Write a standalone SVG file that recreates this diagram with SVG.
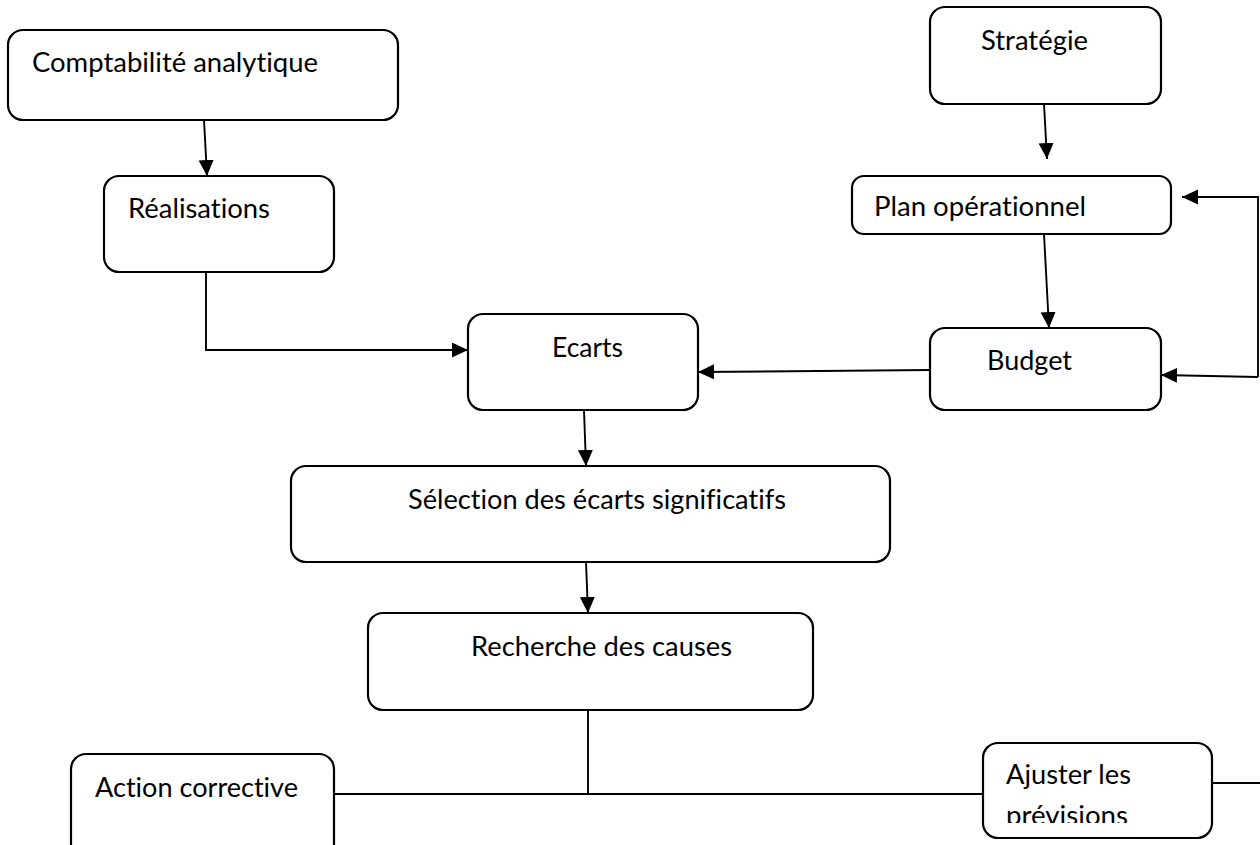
<svg xmlns="http://www.w3.org/2000/svg" width="1260" height="845" viewBox="0 0 1260 845">
  <style>
    .box { fill: #ffffff; stroke: #000000; stroke-width: 2.2; }
    .lbl { font-family: Lato, "Open Sans", "Liberation Sans", sans-serif; font-size: 26px; fill: #000000; font-variant-ligatures: none; font-feature-settings: "liga" 0, "clig" 0; }
    .wire { fill: none; stroke: #000000; stroke-width: 1.9; }
    .arrow { marker-end: url(#head); }
  </style>
  <defs>
    <marker id="head" markerUnits="userSpaceOnUse" markerWidth="17" markerHeight="16" refX="16" refY="7.5" orient="auto">
      <path d="M0,0 L16,7.5 L0,15 Z" fill="#000000"/>
    </marker>
    <clipPath id="clip-ajuster">
      <rect x="984" y="744" width="227" height="79"/>
    </clipPath>
  </defs>

  <rect x="0" y="0" width="1260" height="845" fill="#ffffff"/>

  <!-- connectors -->
  <g id="connectors">
    <line class="wire arrow" x1="204" y1="120" x2="207" y2="176"/>
    <polyline class="wire arrow" points="206,272 206,350 468,350"/>
    <line class="wire arrow" x1="1044" y1="104" x2="1047" y2="159"/>
    <line class="wire arrow" x1="1044" y1="234" x2="1049" y2="328"/>
    <line class="wire arrow" x1="930" y1="370" x2="698" y2="372"/>
    <polyline class="wire arrow" points="1258,377 1258,197 1182,197"/>
    <line class="wire arrow" x1="1258" y1="377" x2="1161" y2="375"/>
    <line class="wire arrow" x1="584" y1="410" x2="586" y2="466"/>
    <line class="wire arrow" x1="586" y1="562" x2="588" y2="613"/>
    <line class="wire" x1="588" y1="710" x2="588" y2="794"/>
    <line class="wire" x1="334" y1="794" x2="983" y2="794"/>
    <line class="wire" x1="1212" y1="783" x2="1260" y2="783"/>
  </g>

  <!-- nodes -->
  <g id="comptabilite">
    <rect class="box" x="8" y="30" width="390" height="90" rx="15"/>
    <text class="lbl" x="32" y="72" textLength="286" lengthAdjust="spacingAndGlyphs">Comptabilité analytique</text>
  </g>
  <g id="realisations">
    <rect class="box" x="104" y="176" width="230" height="96" rx="15"/>
    <text class="lbl" x="128" y="218" textLength="142" lengthAdjust="spacingAndGlyphs">Réalisations</text>
  </g>
  <g id="strategie">
    <rect class="box" x="930" y="7" width="231" height="97" rx="15"/>
    <text class="lbl" x="981" y="50" textLength="107" lengthAdjust="spacingAndGlyphs">Stratégie</text>
  </g>
  <g id="plan">
    <rect class="box" x="852" y="176" width="319" height="58" rx="12"/>
    <text class="lbl" x="874" y="216" textLength="212" lengthAdjust="spacingAndGlyphs">Plan opérationnel</text>
  </g>
  <g id="budget">
    <rect class="box" x="930" y="328" width="231" height="82" rx="15"/>
    <text class="lbl" x="987" y="370" textLength="85" lengthAdjust="spacingAndGlyphs">Budget</text>
  </g>
  <g id="ecarts">
    <rect class="box" x="468" y="314" width="230" height="96" rx="15"/>
    <text class="lbl" x="552" y="357" textLength="71" lengthAdjust="spacingAndGlyphs">Ecarts</text>
  </g>
  <g id="selection">
    <rect class="box" x="291" y="466" width="599" height="96" rx="15"/>
    <text class="lbl" x="408" y="509" textLength="378" lengthAdjust="spacingAndGlyphs">Sélection des écarts significatifs</text>
  </g>
  <g id="recherche">
    <rect class="box" x="368" y="613" width="445" height="97" rx="15"/>
    <text class="lbl" x="471" y="656" textLength="261" lengthAdjust="spacingAndGlyphs">Recherche des causes</text>
  </g>
  <g id="action">
    <rect class="box" x="71" y="754" width="263" height="120" rx="15"/>
    <text class="lbl" x="95" y="797" textLength="203" lengthAdjust="spacingAndGlyphs">Action corrective</text>
  </g>
  <g id="ajuster">
    <rect class="box" x="983" y="743" width="229" height="95" rx="15"/>
    <g clip-path="url(#clip-ajuster)">
      <text class="lbl" x="1006" y="784" textLength="125" lengthAdjust="spacingAndGlyphs">Ajuster les</text>
      <text class="lbl" x="1006" y="825" textLength="122" lengthAdjust="spacingAndGlyphs">prévisions</text>
    </g>
  </g>
</svg>
